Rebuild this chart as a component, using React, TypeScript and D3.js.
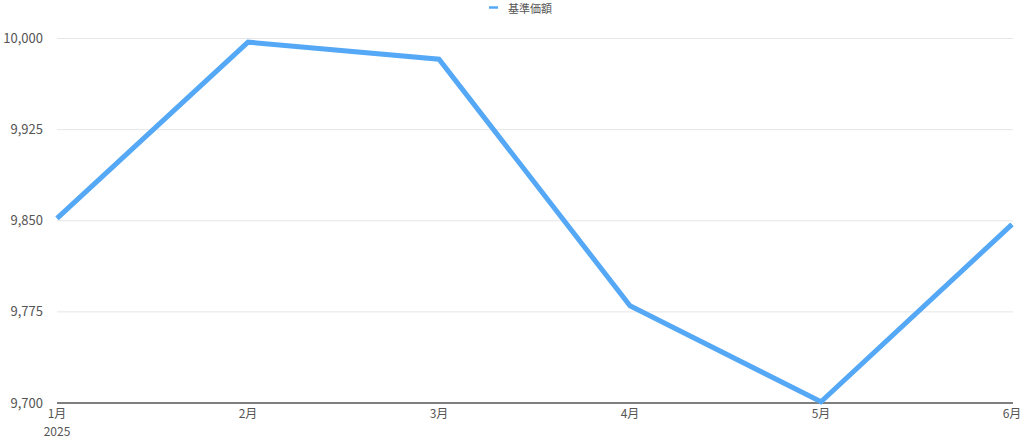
import React from "react";
import * as d3 from "d3";

const months = ["1月", "2月", "3月", "4月", "5月", "6月"];
const values = [9852, 9997, 9983, 9780, 9701, 9847];
const yTicks = [9700, 9775, 9850, 9925, 10000];
const seriesName = "基準価額";
const yearLabel = "2025";

const W = 1024;
const H = 439;
const margin = { left: 57, right: 11, top: 38.5, bottom: 36 };
const color = "#55a8f5";
const font = "'Noto Sans CJK JP', 'Noto Sans', sans-serif";

export default function App() {
  const x = d3
    .scalePoint<string>()
    .domain(months)
    .range([margin.left, W - margin.right - 1]);
  const y = d3
    .scaleLinear()
    .domain([9700, 10000])
    .range([H - margin.bottom, margin.top]);
  const line = d3
    .line<number>()
    .x((_, i) => x(months[i]) as number)
    .y((d) => y(d));
  const fmt = d3.format(",");
  return (
    <svg
      width={W}
      height={H}
      style={{ position: "absolute", left: 0, top: 0, fontFamily: font }}
    >
      <rect width={W} height={H} fill="#fff" />
      {yTicks.map((t) => (
        <g key={t}>
          {t !== 9700 && (
            <line
              x1={margin.left}
              x2={W - margin.right}
              y1={y(t)}
              y2={y(t)}
              stroke="#e6e6e6"
              strokeWidth={1}
            />
          )}
          <text
            x={43}
            y={y(t)}
            dy="0.35em"
            textAnchor="end"
            fontSize={13}
            fill="#555"
          >
            {fmt(t)}
          </text>
        </g>
      ))}
      <line
        x1={margin.left}
        x2={W - margin.right}
        y1={y(9700)}
        y2={y(9700)}
        stroke="#555"
        strokeWidth={1.5}
      />
      {months.map((m) => (
        <text
          key={m}
          x={x(m) as number}
          y={y(9700) + 11}
          dy="0.35em"
          textAnchor="middle"
          fontSize={12}
          fill="#555"
        >
          {m}
        </text>
      ))}
      <text
        x={x(months[0]) as number}
        y={y(9700) + 29}
        dy="0.35em"
        textAnchor="middle"
        fontSize={12}
        fill="#555"
      >
        {yearLabel}
      </text>
      <path
        d={line(values) || ""}
        fill="none"
        stroke={color}
        strokeWidth={5}
        strokeLinejoin="miter"
      />
      <line x1={489} x2={498} y1={7.5} y2={7.5} stroke={color} strokeWidth={2.5} />
      <text x={508} y={12.5} fontSize={11} fill="#555">
        {seriesName}
      </text>
    </svg>
  );
}
